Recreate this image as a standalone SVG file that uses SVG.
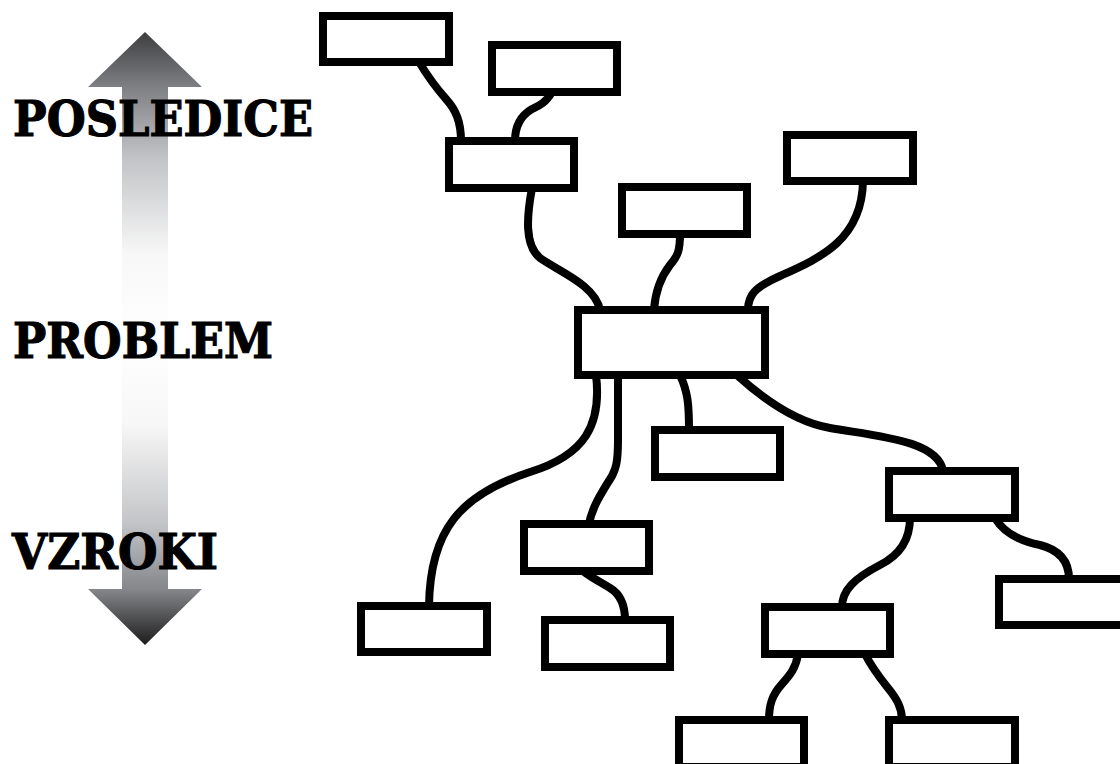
<svg xmlns="http://www.w3.org/2000/svg" width="1120" height="764" viewBox="0 0 1120 764">
<style>
.box{fill:#fff;stroke:#000;stroke-width:8}
.conn path{fill:none;stroke:#000;stroke-width:8;stroke-linecap:butt}
.lbl{font-family:"DejaVu Serif","Liberation Serif",serif;font-weight:bold;font-size:49px;fill:#000;stroke:#000;stroke-width:1.2}
</style>
<defs>
<linearGradient id="ag" gradientUnits="userSpaceOnUse" x1="0" y1="32" x2="0" y2="645">
<stop offset="0" stop-color="#3e3e40"/>
<stop offset="0.09" stop-color="#7e8083"/>
<stop offset="0.2" stop-color="#bfc1c4"/>
<stop offset="0.36" stop-color="#f7f7f7"/>
<stop offset="0.5" stop-color="#ffffff"/>
<stop offset="0.64" stop-color="#f7f7f7"/>
<stop offset="0.8" stop-color="#c4c5c8"/>
<stop offset="0.91" stop-color="#85868a"/>
<stop offset="1" stop-color="#1c1c1c"/>
</linearGradient>
</defs>
<rect width="1120" height="764" fill="#fff"/>
<g id="axis-arrow">
<polygon points="145,32 202,87 168,87 168,589 202,589 145,645 88,589 122,589 122,87 88,87" fill="url(#ag)"/>
</g>
<g id="labels">
<text class="lbl" x="13" y="136" textLength="300" lengthAdjust="spacingAndGlyphs">POSLEDICE</text>
<text class="lbl" x="13" y="358" textLength="260" lengthAdjust="spacingAndGlyphs">PROBLEM</text>
<text class="lbl" x="12" y="569" textLength="206" lengthAdjust="spacingAndGlyphs">VZROKI</text>
</g>
<g class="conn" id="connectors">
<path d="M419,62 C430,80 438,90 446,99 C456,110 461,122 461,141"/>
<path d="M552,92 C545,104 538,106 532,109 C520,116 515,128 515,141"/>
<path d="M532,188 C527,215 524,245 540,258 C560,272 595,285 600,310"/>
<path d="M680,234 C680,250 678,256 670,265 C660,278 655,295 654,310"/>
<path d="M863,181 C862,240 820,258 780,276 C755,287 748,295 748,310"/>
<path d="M596,375 C602,425 585,455 530,472 C460,495 430,530 429,606"/>
<path d="M618,375 L618,440 C618,465 615,470 612,476 C600,495 592,508 589,524"/>
<path d="M680,375 C688,392 689,405 689,430"/>
<path d="M738,376 C770,405 800,423 830,428 C875,436 938,440 943,471"/>
<path d="M910,518 C910,540 900,555 880,565 C855,578 842,590 842,607"/>
<path d="M995,518 C1005,535 1025,542 1040,545 C1060,550 1069,562 1069,579"/>
<path d="M798,654 C796,668 790,675 782,684 C772,695 769,705 769,720"/>
<path d="M865,654 C872,668 880,678 888,688 C897,699 902,708 902,720"/>
<path d="M583,571 C592,578 602,583 610,588 C620,594 625,605 625,620"/>
</g>
<g id="nA"><rect class="box" x="323" y="16" width="126" height="46"/></g>
<g id="nB"><rect class="box" x="492" y="45" width="125" height="47"/></g>
<g id="nC"><rect class="box" x="449" y="141" width="125" height="47"/></g>
<g id="nD"><rect class="box" x="787" y="135" width="126" height="46"/></g>
<g id="nE"><rect class="box" x="622" y="187" width="125" height="47"/></g>
<g id="nMain"><rect class="box" x="578" y="310" width="187" height="65"/></g>
<g id="nF"><rect class="box" x="655" y="430" width="125" height="47"/></g>
<g id="nG"><rect class="box" x="524" y="524" width="125" height="47"/></g>
<g id="nH"><rect class="box" x="361" y="606" width="126" height="46"/></g>
<g id="nI"><rect class="box" x="545" y="620" width="125" height="47"/></g>
<g id="nJ"><rect class="box" x="889" y="471" width="126" height="47"/></g>
<g id="nK"><rect class="box" x="999" y="579" width="126" height="46"/></g>
<g id="nL"><rect class="box" x="765" y="607" width="125" height="47"/></g>
<g id="nM"><rect class="box" x="679" y="720" width="125" height="47"/></g>
<g id="nN"><rect class="box" x="889" y="720" width="126" height="47"/></g>
</svg>
